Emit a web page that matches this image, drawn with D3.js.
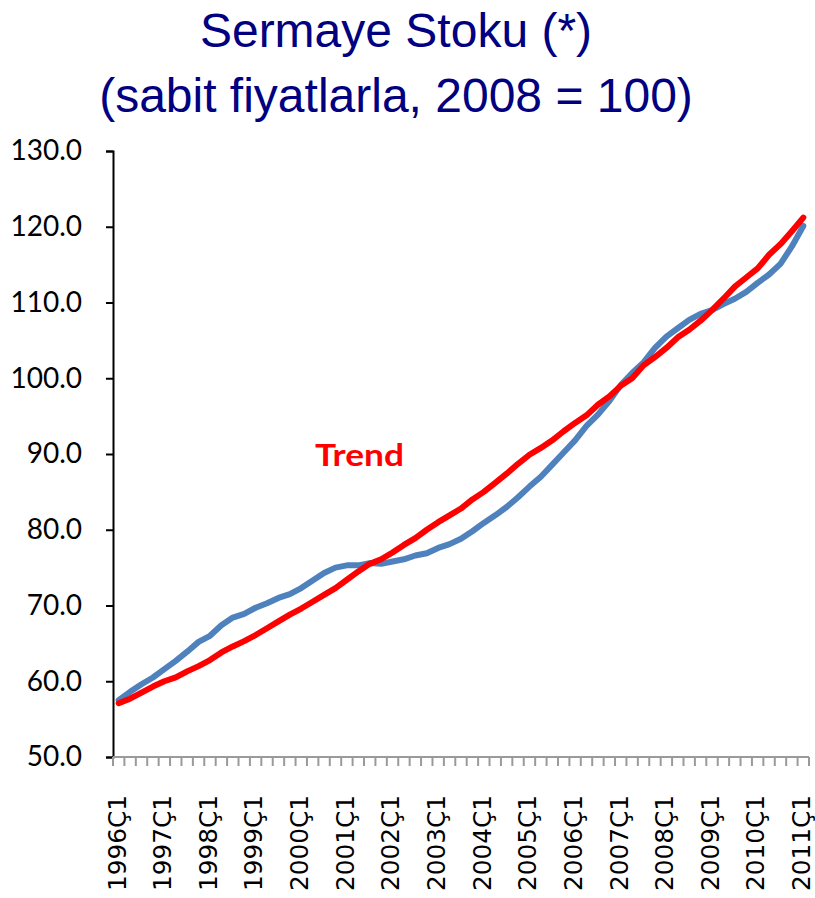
<!DOCTYPE html>
<html>
<head>
<meta charset="utf-8">
<script src="https://cdn.jsdelivr.net/npm/d3@7"></script>
<style>
  body { margin: 0; background: #fff; }
</style>
</head>
<body>
<div id="chart"></div>
<script>
// years shown on the category axis, one label per first quarter
const years = d3.range(1996, 2012)
const categories = []
years.forEach(y => {
    for (let q = 1; q <= 4; q++) {
        if (y === 2011 && q > 1) break
        categories.push(y + "Ç" + q)
    }
})
const tickLabels = categories.filter(c => c.endsWith("Ç1"))

const yTicks = [50, 60, 70, 80, 90, 100, 110, 120, 130]

// capital stock, quarterly
const stock = [
    57.5, 58.6, 59.6, 60.5, 61.6, 62.7, 63.9, 65.2, 66.0, 67.4,
    68.4, 68.9, 69.7, 70.3, 71.0, 71.5, 72.3, 73.3, 74.3, 75.0,
    75.3, 75.3, 75.6, 75.5, 75.8, 76.1, 76.6, 76.9, 77.6, 78.1,
    78.8, 79.8, 80.9, 81.9, 83.0, 84.3, 85.7, 87.0, 88.6, 90.2,
    91.8, 93.7, 95.2, 97.0, 99.1, 100.7, 102.1, 104.0, 105.5, 106.6,
    107.7, 108.5, 109.0, 109.8, 110.5, 111.4, 112.6, 113.7, 115.1, 117.4,
    120.1
]

// trend
const trend = [
    57.1, 57.7, 58.5, 59.3, 60.0, 60.5, 61.3, 62.0, 62.8, 63.8,
    64.6, 65.3, 66.1, 67.0, 67.9, 68.8, 69.6, 70.5, 71.4, 72.3,
    73.4, 74.5, 75.5, 76.1, 77.0, 78.0, 78.9, 80.0, 81.0, 81.9,
    82.8, 84.0, 85.0, 86.2, 87.4, 88.7, 89.9, 90.8, 91.8, 93.0,
    94.1, 95.1, 96.5, 97.6, 99.0, 100.0, 101.7, 102.8, 104.0, 105.4,
    106.4, 107.6, 109.0, 110.5, 112.1, 113.3, 114.5, 116.3, 117.7, 119.4,
    121.2
]

const titleLines = ["Sermaye Stoku (*)", "(sabit fiyatlarla, 2008 = 100)"]

const W = 815, H = 898
const margin = {top: 151, right: 6, bottom: 141, left: 113}

const colors = {
    title: "#000080",
    stock: "#4F81BD",
    trend: "#FF0000",
    axis: "#000000",
    xaxis: "#9A9A9A"
}

const svg = d3.select("#chart").append("svg")
    .attr("width", W)
    .attr("height", H)

const x = d3.scaleBand()
    .domain(categories)
    .range([margin.left, W - margin.right])

const y = d3.scaleLinear()
    .domain([50, 130])
    .range([H - margin.bottom, margin.top])

// title
svg.selectAll(".title")
    .data(titleLines)
    .enter().append("text")
    .attr("class", "title")
    .attr("x", 396)
    .attr("y", (d, i) => 47 + i * 65)
    .attr("text-anchor", "middle")
    .attr("font-family", "'Liberation Sans', Arial, sans-serif")
    .attr("font-size", 48)
    .attr("fill", colors.title)
    .text(d => d)

// y axis
const yAxis = svg.append("g")
    .attr("transform", `translate(${margin.left},0)`)
    .call(d3.axisLeft(y).tickValues(yTicks).tickSize(7).tickPadding(24).tickFormat(d3.format(".1f")))
yAxis.select(".domain").attr("stroke", colors.axis).attr("stroke-width", 2)
yAxis.selectAll(".tick line").attr("stroke", colors.axis).attr("stroke-width", 2)
yAxis.selectAll(".tick text")
    .attr("font-family", "Lato, 'Open Sans', sans-serif")
    .attr("font-size", 28)
    .attr("fill", "#000")

// x axis: tick at every category boundary, label at every Ç1
const xBase = y(50)
const bounds = categories.map(c => x(c)).concat([x.range()[1]])
const xAxis = svg.append("g").attr("class", "x-axis")
xAxis.selectAll(".qtick")
    .data(bounds)
    .enter().append("line")
    .attr("class", "qtick")
    .attr("x1", d => d).attr("x2", d => d)
    .attr("y1", xBase).attr("y2", xBase + 9)
    .attr("stroke", colors.xaxis)
    .attr("stroke-width", 2)
xAxis.append("line")
    .attr("x1", x.range()[0]).attr("x2", x.range()[1])
    .attr("y1", xBase).attr("y2", xBase)
    .attr("stroke", colors.xaxis)
    .attr("stroke-width", 2)
xAxis.selectAll(".xlabel")
    .data(tickLabels)
    .enter().append("text")
    .attr("class", "xlabel")
    .attr("transform", d => `translate(${x(d) + x.bandwidth() / 2 - 2},795) rotate(-90)`)
    .attr("dy", "0.36em")
    .attr("text-anchor", "end")
    .attr("font-family", "'DejaVu Sans', Verdana, sans-serif")
    .attr("font-size", 24.5)
    .attr("textLength", 96)
    .attr("lengthAdjust", "spacingAndGlyphs")
    .attr("fill", "#000")
    .text(d => d)

// lines
const line = d3.line()
    .x((d, i) => x(categories[i]) + x.bandwidth() / 2)
    .y(d => y(d))

svg.append("path")
    .datum(stock)
    .attr("fill", "none")
    .attr("stroke", colors.stock)
    .attr("stroke-width", 6)
    .attr("stroke-linejoin", "round")
    .attr("stroke-linecap", "round")
    .attr("d", line)

svg.append("path")
    .datum(trend)
    .attr("fill", "none")
    .attr("stroke", colors.trend)
    .attr("stroke-width", 6)
    .attr("stroke-linejoin", "round")
    .attr("stroke-linecap", "round")
    .attr("d", line)

svg.append("text")
    .attr("x", 315)
    .attr("y", 466)
    .attr("font-family", "Lato, 'Open Sans', sans-serif")
    .attr("font-weight", "bold")
    .attr("font-size", 30)
    .attr("textLength", 89)
    .attr("lengthAdjust", "spacingAndGlyphs")
    .attr("fill", colors.trend)
    .text("Trend")
</script>
</body>
</html>
